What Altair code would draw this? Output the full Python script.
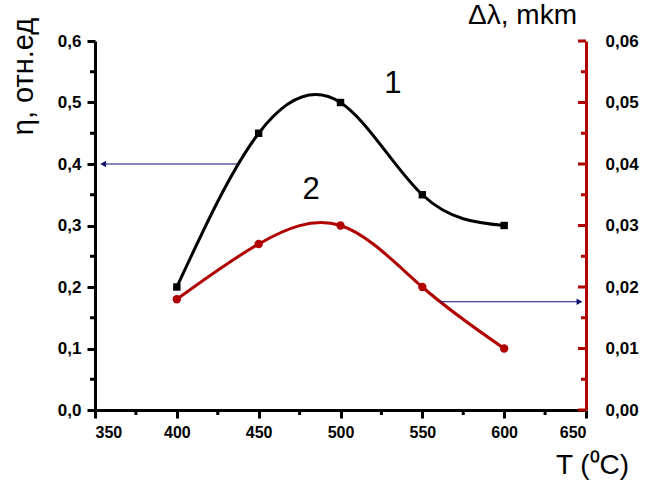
import altair as alt
import pandas as pd

# Measured series
temps = [400, 450, 500, 550, 600]
eta = [0.20, 0.45, 0.50, 0.35, 0.30]          # curve 1, left axis
dlam = [0.018, 0.027, 0.030, 0.020, 0.010]    # curve 2, right axis

# Axis ticks
x_ticks = [350, 400, 450, 500, 550, 600, 650]
x_minor = [375, 425, 475, 525, 575, 625]
eta_ticks = [0.0, 0.1, 0.2, 0.3, 0.4, 0.5, 0.6]
eta_minor = [0.05, 0.15, 0.25, 0.35, 0.45, 0.55]
dl_ticks = [0.0, 0.01, 0.02, 0.03, 0.04, 0.05, 0.06]
dl_minor = [0.005, 0.015, 0.025, 0.035, 0.045, 0.055]

# Pointer arrows (T from -> to, level)
arrow_eta_x = [437, 355]
arrow_eta_y = 0.4
arrow_dl_x = [561, 646]
arrow_dl_y = 0.0176

# Curve labels
label_1 = {"T": 532, "v": 0.530, "t": "1"}
label_2 = {"T": 482, "v": 0.0358, "t": "2"}

W, H = 491, 369
RED = "#b00000"
NAVY = "#10106e"
FONT = "Liberation Sans"

curve1 = pd.DataFrame({"T": temps, "v": eta})
curve2 = pd.DataFrame({"T": temps, "v": dlam})

x_axis = alt.Axis(
    values=x_ticks, format="d", title="T (⁰C)",
    titleX=497, titleY=55, titleAlign="center", titleBaseline="middle",
    titleFontSize=28, titleFontWeight="normal", titleFont=FONT, titleColor="black",
    labelFont=FONT, labelFontSize=16, labelFontWeight="bold", labelColor="black",
    labelPadding=6, tickSize=8, tickWidth=3, tickColor="black",
    domainWidth=3, domainColor="black", grid=False,
)
X = lambda f: alt.X(f, type="quantitative", scale=alt.Scale(domain=[350, 650], nice=False), axis=x_axis)

eta_axis = alt.Axis(
    values=eta_ticks, title="η, отн.ед", orient="left",
    labelExpr="replace(format(datum.value, '.1f'), '.', ',')",
    titleAngle=270, titleX=-72, titleY=35, titleAlign="center", titleBaseline="middle",
    titleFontSize=29, titleFontWeight="normal", titleFont=FONT, titleColor="black",
    labelFont=FONT, labelFontSize=17, labelFontWeight="bold", labelColor="black",
    labelPadding=6, tickSize=8, tickWidth=3, tickColor="black",
    domainWidth=3, domainColor="black", grid=False,
)
dl_axis = alt.Axis(
    values=dl_ticks, title="Δλ, mkm", orient="right",
    labelExpr="replace(format(datum.value, '.2f'), '.', ',')",
    titleAngle=0, titleX=-64, titleY=-26, titleAlign="center", titleBaseline="middle",
    titleFontSize=28, titleFontWeight="normal", titleFont=FONT, titleColor="black",
    labelFont=FONT, labelFontSize=17, labelFontWeight="bold", labelColor="black",
    labelPadding=19, ticks=False, domainWidth=3, domainColor=RED, grid=False,
)
YL = lambda f: alt.Y(f, type="quantitative", scale=alt.Scale(domain=[0, 0.6], nice=False), axis=eta_axis)
YR = lambda f: alt.Y(f, type="quantitative", scale=alt.Scale(domain=[0, 0.06], nice=False), axis=dl_axis)

# ---- left-axis group: curve 1 ----
line1 = alt.Chart(curve1).mark_line(color="black", strokeWidth=3, interpolate="natural").encode(x=X("T"), y=YL("v"))
pts1 = alt.Chart(curve1).mark_square(color="black", size=55, opacity=1).encode(x=X("T"), y=YL("v"))
arr1_df = pd.DataFrame({"T": [arrow_eta_x[0]], "T2": [arrow_eta_x[1]], "v": [arrow_eta_y]})
arr1 = alt.Chart(arr1_df).mark_rule(color=NAVY, strokeWidth=1.2).encode(x=X("T"), x2="T2", y=YL("v"))
head1 = alt.Chart(pd.DataFrame({"T": [arrow_eta_x[1]], "v": [arrow_eta_y]})).mark_point(
    shape="triangle-left", filled=True, color=NAVY, size=45, opacity=1).encode(x=X("T"), y=YL("v"))
lab1 = alt.Chart(pd.DataFrame([label_1])).mark_text(font=FONT, fontSize=31, color="black").encode(
    x=X("T"), y=YL("v"), text="t:N")
eta_min = alt.Chart(pd.DataFrame({"v": eta_minor})).mark_rule(color="black", strokeWidth=3).encode(
    y=YL("v"), x=alt.value(-5), x2=alt.value(0))
x_min = alt.Chart(pd.DataFrame({"T": x_minor})).mark_rule(color="black", strokeWidth=3).encode(
    x=X("T"), y=alt.value(H), y2=alt.value(H + 5))
left = alt.layer(eta_min, x_min, line1, pts1, arr1, head1, lab1)

# ---- right-axis group: curve 2 ----
line2 = alt.Chart(curve2).mark_line(color=RED, strokeWidth=3, interpolate="natural").encode(x=X("T"), y=YR("v"))
pts2 = alt.Chart(curve2).mark_circle(color=RED, size=70, opacity=1).encode(x=X("T"), y=YR("v"))
arr2_df = pd.DataFrame({"T": [arrow_dl_x[0]], "T2": [arrow_dl_x[1]], "v": [arrow_dl_y]})
arr2 = alt.Chart(arr2_df).mark_rule(color=NAVY, strokeWidth=1.2).encode(x=X("T"), x2="T2", y=YR("v"))
head2 = alt.Chart(pd.DataFrame({"T": [arrow_dl_x[1]], "v": [arrow_dl_y]})).mark_point(
    shape="triangle-right", filled=True, color=NAVY, size=45, opacity=1).encode(x=X("T"), y=YR("v"))
lab2 = alt.Chart(pd.DataFrame([label_2])).mark_text(font=FONT, fontSize=31, color="black").encode(
    x=X("T"), y=YR("v"), text="t:N")
dl_maj = alt.Chart(pd.DataFrame({"v": dl_ticks})).mark_rule(color=RED, strokeWidth=3).encode(
    y=YR("v"), x=alt.value(W - 8), x2=alt.value(W))
dl_min = alt.Chart(pd.DataFrame({"v": dl_minor})).mark_rule(color=RED, strokeWidth=3).encode(
    y=YR("v"), x=alt.value(W - 5), x2=alt.value(W))
right = alt.layer(dl_maj, dl_min, line2, pts2, arr2, head2, lab2)

chart = alt.layer(left, right).resolve_scale(y="independent").properties(
    width=W, height=H,
    autosize=alt.AutoSizeParams(type="none"),
    padding={"left": 95, "top": 41, "right": 68, "bottom": 78},
    background="white",
).configure_view(stroke=None)

chart.save("out.html", embed_options={"renderer": "svg", "actions": False})
